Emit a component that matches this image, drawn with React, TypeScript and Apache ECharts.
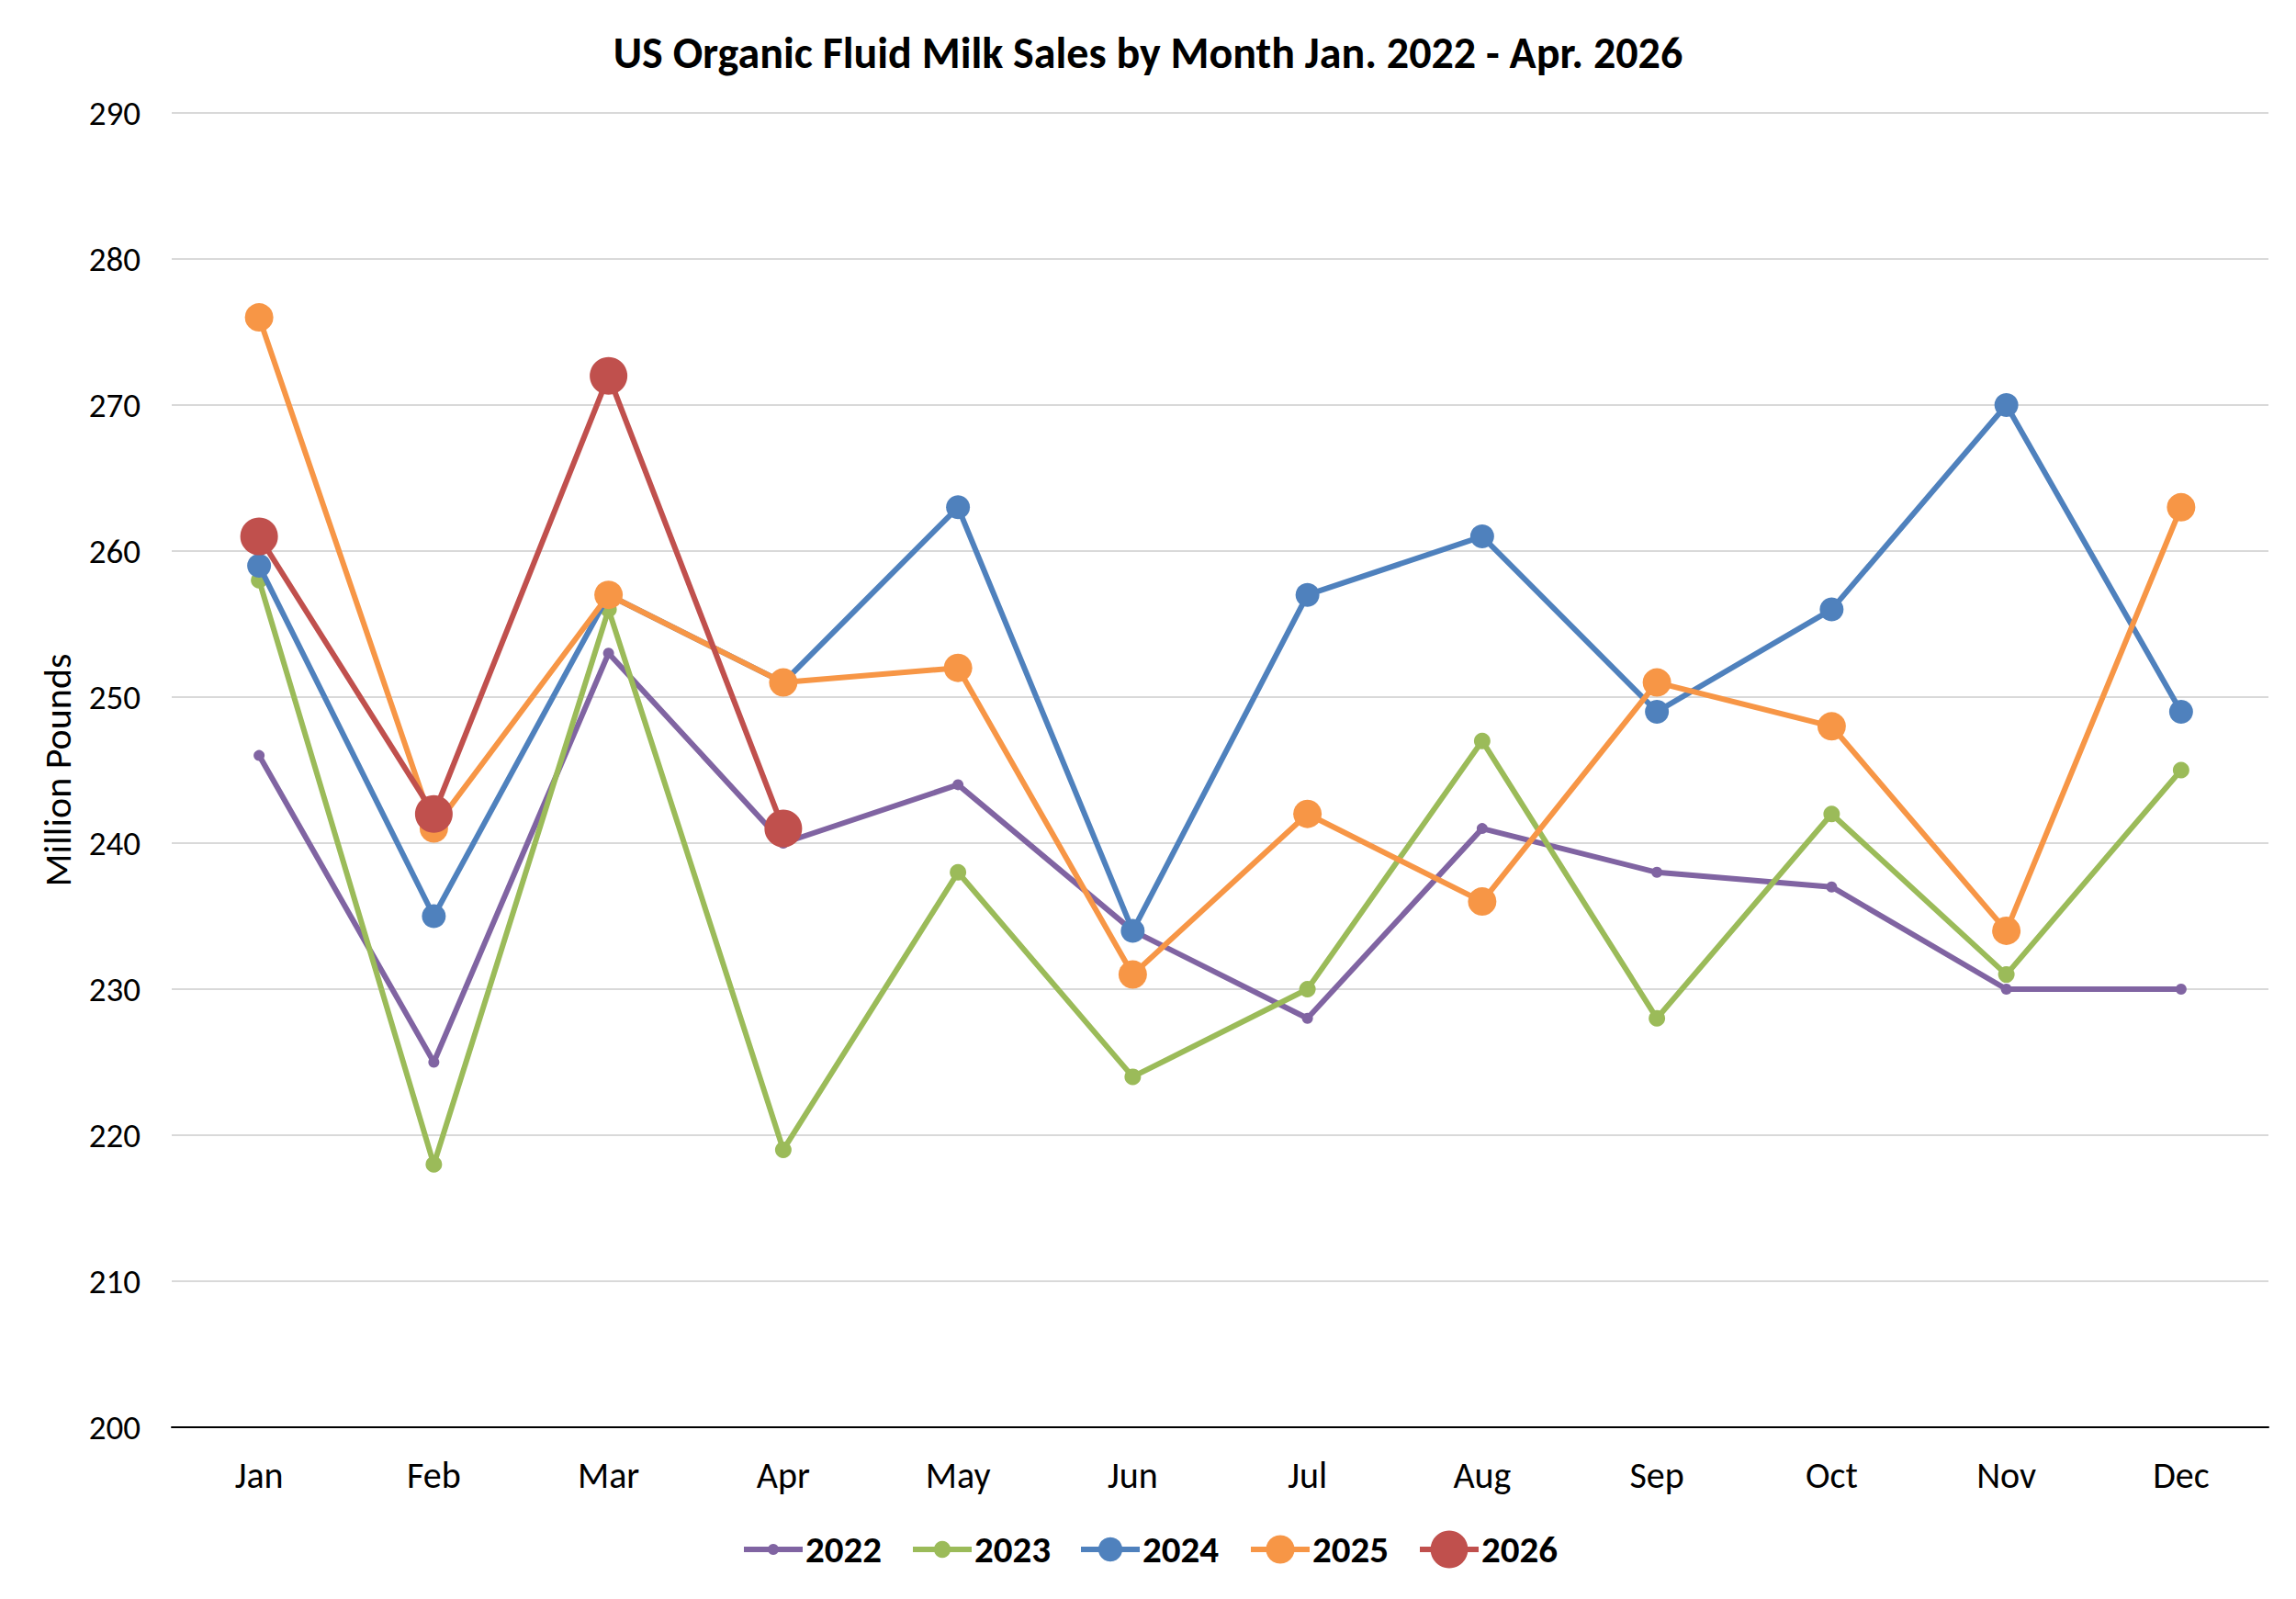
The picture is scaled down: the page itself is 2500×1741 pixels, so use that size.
import { useEffect, useRef } from 'react';
import * as echarts from 'echarts';

const months = ['Jan', 'Feb', 'Mar', 'Apr', 'May', 'Jun', 'Jul', 'Aug', 'Sep', 'Oct', 'Nov', 'Dec'];
const yearNames = ['2022', '2023', '2024', '2025', '2026'];
const sales2022 = [246, 225, 253, 240, 244, 234, 228, 241, 238, 237, 230, 230];
const sales2023 = [258, 218, 256, 219, 238, 224, 230, 247, 228, 242, 231, 245];
const sales2024 = [259, 235, 257, 251, 263, 234, 257, 261, 249, 256, 270, 249];
const sales2025 = [276, 241, 257, 251, 252, 231, 242, 236, 251, 248, 234, 263];
const sales2026 = [261, 242, 272, 241];
const yTicks = { min: 200, max: 290, interval: 10 };

const FONT = 'Carlito, Lato, sans-serif';

export default function App() {
  const chartRef = useRef<HTMLDivElement>(null);

  useEffect(() => {
    if (!chartRef.current) return;
    document.body.style.margin = '0';
    const chart = echarts.init(chartRef.current, undefined, { renderer: 'svg' });

    const colors = ['#8064A2', '#9BBB59', '#4F81BD', '#F79646', '#C0504D'];
    const sizes = [12, 18, 26, 31, 41];
    const allData = [sales2022, sales2023, sales2024, sales2025, sales2026];
    // one legend per year so each icon keeps its own marker size
    const legendLeft = [807, 991, 1174, 1359, 1543];

    const option: echarts.EChartsOption = {
      animation: false,
      backgroundColor: '#fff',
      textStyle: { fontFamily: FONT },
      title: {
        text: 'US Organic Fluid Milk Sales by Month Jan. 2022 - Apr. 2026',
        left: 'center',
        top: 28,
        textStyle: { fontFamily: FONT, fontSize: 48, fontWeight: 'bold', color: '#000' },
      },
      legend: yearNames.map((name, i) => ({
        data: [name],
        left: legendLeft[i],
        top: 1662,
        padding: 0,
        itemWidth: 64,
        itemHeight: Math.round(sizes[i] / 0.8),
        itemGap: 0,
        selectedMode: false,
        lineStyle: { width: 6 },
        textStyle: {
          fontFamily: FONT,
          fontSize: 41,
          fontWeight: 'bold',
          color: '#000',
          lineHeight: 50,
          padding: [0, 0, 0, -2],
        },
      })),
      grid: {
        left: 187,
        right: 30,
        top: 123,
        bottom: 187,
      },
      xAxis: {
        type: 'category',
        data: months,
        boundaryGap: true,
        axisLine: { lineStyle: { color: '#000', width: 2 } },
        axisTick: { show: false },
        axisLabel: { fontFamily: FONT, fontSize: 40, color: '#000', margin: 32 },
      },
      yAxis: {
        type: 'value',
        min: yTicks.min,
        max: yTicks.max,
        interval: yTicks.interval,
        name: 'Million Pounds',
        nameLocation: 'middle',
        nameGap: 104,
        nameTextStyle: { fontFamily: FONT, fontSize: 42, color: '#000' },
        axisLine: { show: false },
        axisTick: { show: false },
        axisLabel: { fontFamily: FONT, fontSize: 37, color: '#000', margin: 34 },
        splitLine: { lineStyle: { color: '#D9D9D9', width: 2 } },
      },
      series: yearNames.map((name, i) => ({
        name,
        type: 'line',
        data: allData[i],
        symbol: 'circle',
        symbolSize: sizes[i],
        showAllSymbol: true,
        lineStyle: { color: colors[i], width: 6 },
        itemStyle: { color: colors[i] },
        z: 2 + i,
      })),
    };

    chart.setOption(option);

    return () => {
      chart.dispose();
    };
  }, []);

  return <div ref={chartRef} style={{ width: '2500px', height: '1741px' }} />;
}
